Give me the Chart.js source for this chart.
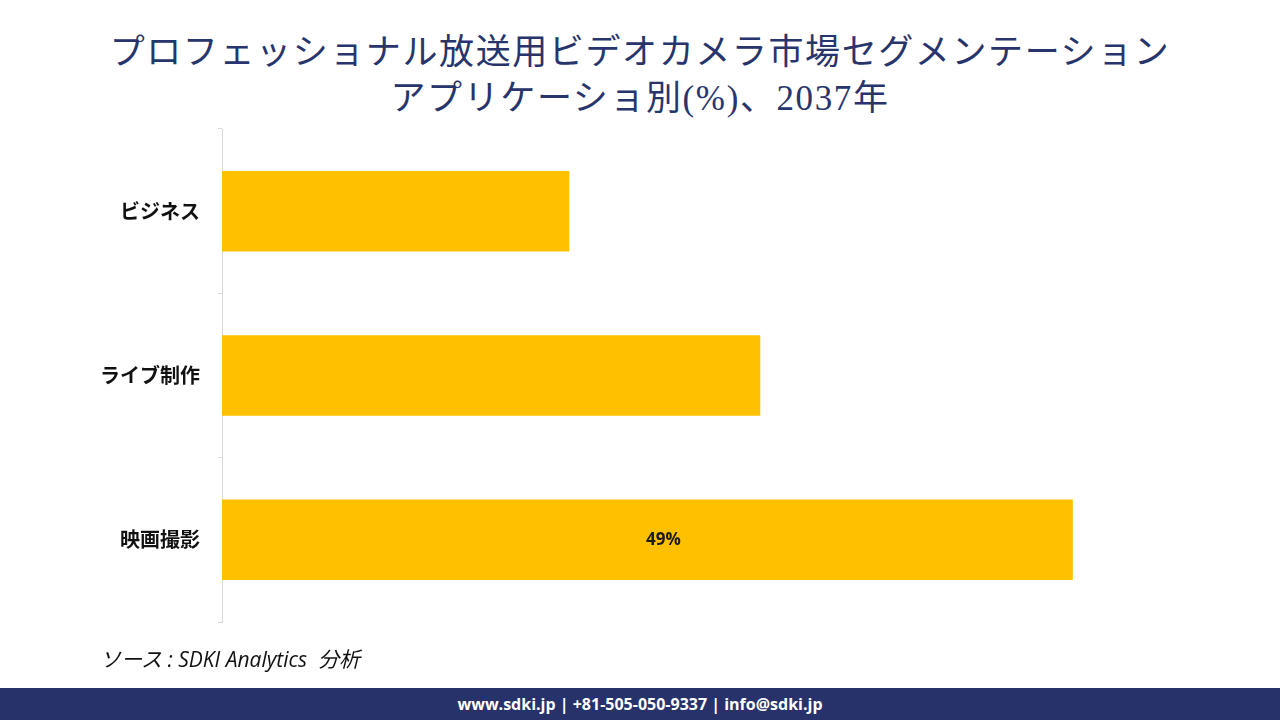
<!DOCTYPE html>
<html>
<head>
<meta charset="utf-8">
<script src="https://cdn.jsdelivr.net/npm/chart.js@4/dist/chart.umd.min.js"></script>
<style>
    body { margin: 0; width: 1280px; height: 720px; background: #fff; position: relative; overflow: hidden; }
    #titulo {
        position: absolute; left: 0; top: 30px; width: 1280px; text-align: center;
        font-family: "Liberation Serif", "Noto Sans CJK JP", serif; font-size: 35px; line-height: 46px;
        color: #27356c; letter-spacing: 1.6px;
    }
    #myChart { position: absolute; left: 0; top: 99px; }
    #fuente {
        position: absolute; left: 100px; top: 643px;
        font-family: "Open Sans", "Noto Sans CJK JP", sans-serif; font-style: italic; font-size: 21px; color: #111;
    }
    #pie {
        position: absolute; left: 0; top: 688px; width: 1280px; height: 32px; background: #27326b;
        color: #fff; text-align: center; font-family: "Open Sans", sans-serif; font-weight: bold;
        font-size: 16px; line-height: 32px;
    }
</style>
</head>
<body>
<div id="titulo">プロフェッショナル放送用ビデオカメラ市場セグメンテーション<br>アプリケーショ別(%)、2037年</div>
<canvas id="myChart" width="1280" height="553"></canvas>
<div id="fuente">ソース : SDKI Analytics&nbsp; 分析</div>
<div id="pie">www.sdki.jp | +81-505-050-9337 | info@sdki.jp</div>
<script>
const categorias = ['ビジネス', 'ライブ制作', '映画撮影'];
const valores = [20, 31, 49];
const etiquetas = [null, null, '49%'];

// solo se rotula la barra de 映画撮影
const rotulos = {
    id: 'rotulos',
    afterDatasetsDraw(chart) {
        const ctx = chart.ctx;
        const meta = chart.getDatasetMeta(0);
        ctx.save();
        ctx.font = 'bold 17px "Open Sans", sans-serif';
        ctx.fillStyle = '#1a1a1a';
        ctx.textAlign = 'center';
        ctx.textBaseline = 'middle';
        meta.data.forEach((barra, i) => {
            if (!etiquetas[i]) return;
            const x = (barra.base + barra.x) / 2 + 16;
            ctx.fillText(etiquetas[i], x, barra.y);
        });
        ctx.restore();
    }
};

const ctx = document.getElementById('myChart').getContext('2d');
new Chart(ctx, {
    type: 'bar',
    data: {
        labels: categorias,
        datasets: [{
            data: valores,
            backgroundColor: '#FFC000',
            categoryPercentage: 1,
            barPercentage: 0.49
        }]
    },
    options: {
        indexAxis: 'y',
        responsive: false,
        animation: false,
        layout: { padding: { top: 0, bottom: 0, left: 0, right: 103 } },
        plugins: {
            legend: { display: false },
            tooltip: { enabled: false }
        },
        scales: {
            x: {
                display: false,
                min: 0,
                max: 55
            },
            y: {
                afterFit: (s) => { s.width = 222; },
                grid: {
                    drawOnChartArea: false,
                    drawTicks: true,
                    tickLength: 4,
                    color: '#d9d9d9'
                },
                border: { color: '#d9d9d9' },
                ticks: {
                    padding: 18,
                    color: '#111',
                    font: { family: '"Noto Sans CJK JP", sans-serif', size: 20, weight: 'bold' }
                }
            }
        }
    },
    plugins: [rotulos]
});
</script>
</body>
</html>
